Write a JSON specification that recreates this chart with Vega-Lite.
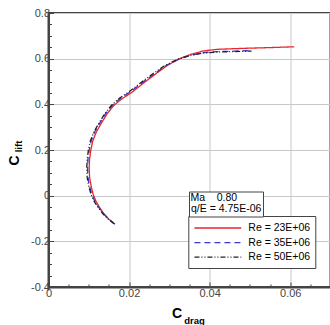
{
  "$schema": "https://vega.github.io/schema/vega-lite/v6.json",
  "autosize": "none",
  "width": 282,
  "height": 274,
  "padding": {"left": 48.5, "top": 13, "right": 0, "bottom": 38},
  "config": {
    "font": "Liberation Sans",
    "view": {"stroke": "#444", "strokeWidth": 2}
  },
  "datasets": {
    "polar": [
      {"s":"Re = 23E+06","i":0,"cd":0.0161,"cl":-0.120},
      {"s":"Re = 23E+06","i":1,"cd":0.0148,"cl":-0.100},
      {"s":"Re = 23E+06","i":2,"cd":0.0137,"cl":-0.078},
      {"s":"Re = 23E+06","i":3,"cd":0.0127,"cl":-0.052},
      {"s":"Re = 23E+06","i":4,"cd":0.0118,"cl":-0.025},
      {"s":"Re = 23E+06","i":5,"cd":0.0111,"cl":0.005},
      {"s":"Re = 23E+06","i":6,"cd":0.0106,"cl":0.040},
      {"s":"Re = 23E+06","i":7,"cd":0.0102,"cl":0.080},
      {"s":"Re = 23E+06","i":8,"cd":0.0101,"cl":0.120},
      {"s":"Re = 23E+06","i":9,"cd":0.0102,"cl":0.160},
      {"s":"Re = 23E+06","i":10,"cd":0.0105,"cl":0.200},
      {"s":"Re = 23E+06","i":11,"cd":0.0110,"cl":0.240},
      {"s":"Re = 23E+06","i":12,"cd":0.0119,"cl":0.280},
      {"s":"Re = 23E+06","i":13,"cd":0.0132,"cl":0.320},
      {"s":"Re = 23E+06","i":14,"cd":0.0146,"cl":0.360},
      {"s":"Re = 23E+06","i":15,"cd":0.0162,"cl":0.395},
      {"s":"Re = 23E+06","i":16,"cd":0.0182,"cl":0.424},
      {"s":"Re = 23E+06","i":17,"cd":0.0205,"cl":0.450},
      {"s":"Re = 23E+06","i":18,"cd":0.0235,"cl":0.492},
      {"s":"Re = 23E+06","i":19,"cd":0.0265,"cl":0.532},
      {"s":"Re = 23E+06","i":20,"cd":0.0295,"cl":0.570},
      {"s":"Re = 23E+06","i":21,"cd":0.0325,"cl":0.600},
      {"s":"Re = 23E+06","i":22,"cd":0.0355,"cl":0.620},
      {"s":"Re = 23E+06","i":23,"cd":0.0385,"cl":0.634},
      {"s":"Re = 23E+06","i":24,"cd":0.0420,"cl":0.641},
      {"s":"Re = 23E+06","i":25,"cd":0.0480,"cl":0.645},
      {"s":"Re = 23E+06","i":26,"cd":0.0540,"cl":0.648},
      {"s":"Re = 23E+06","i":27,"cd":0.0610,"cl":0.652},
      {"s":"Re = 35E+06","i":0,"cd":0.0165,"cl":-0.125},
      {"s":"Re = 35E+06","i":1,"cd":0.0150,"cl":-0.103},
      {"s":"Re = 35E+06","i":2,"cd":0.0137,"cl":-0.080},
      {"s":"Re = 35E+06","i":3,"cd":0.0126,"cl":-0.055},
      {"s":"Re = 35E+06","i":4,"cd":0.0116,"cl":-0.028},
      {"s":"Re = 35E+06","i":5,"cd":0.0108,"cl":0.003},
      {"s":"Re = 35E+06","i":6,"cd":0.0102,"cl":0.040},
      {"s":"Re = 35E+06","i":7,"cd":0.0098,"cl":0.080},
      {"s":"Re = 35E+06","i":8,"cd":0.0097,"cl":0.120},
      {"s":"Re = 35E+06","i":9,"cd":0.0098,"cl":0.160},
      {"s":"Re = 35E+06","i":10,"cd":0.0101,"cl":0.200},
      {"s":"Re = 35E+06","i":11,"cd":0.0106,"cl":0.240},
      {"s":"Re = 35E+06","i":12,"cd":0.0115,"cl":0.280},
      {"s":"Re = 35E+06","i":13,"cd":0.0128,"cl":0.320},
      {"s":"Re = 35E+06","i":14,"cd":0.0142,"cl":0.360},
      {"s":"Re = 35E+06","i":15,"cd":0.0158,"cl":0.395},
      {"s":"Re = 35E+06","i":16,"cd":0.0178,"cl":0.426},
      {"s":"Re = 35E+06","i":17,"cd":0.0202,"cl":0.453},
      {"s":"Re = 35E+06","i":18,"cd":0.0232,"cl":0.494},
      {"s":"Re = 35E+06","i":19,"cd":0.0262,"cl":0.533},
      {"s":"Re = 35E+06","i":20,"cd":0.0292,"cl":0.570},
      {"s":"Re = 35E+06","i":21,"cd":0.0322,"cl":0.597},
      {"s":"Re = 35E+06","i":22,"cd":0.0352,"cl":0.614},
      {"s":"Re = 35E+06","i":23,"cd":0.0382,"cl":0.626},
      {"s":"Re = 35E+06","i":24,"cd":0.0420,"cl":0.631},
      {"s":"Re = 35E+06","i":25,"cd":0.0460,"cl":0.633},
      {"s":"Re = 35E+06","i":26,"cd":0.0504,"cl":0.635},
      {"s":"Re = 50E+06","i":0,"cd":0.0163,"cl":-0.123},
      {"s":"Re = 50E+06","i":1,"cd":0.0148,"cl":-0.102},
      {"s":"Re = 50E+06","i":2,"cd":0.0135,"cl":-0.079},
      {"s":"Re = 50E+06","i":3,"cd":0.0124,"cl":-0.054},
      {"s":"Re = 50E+06","i":4,"cd":0.0114,"cl":-0.027},
      {"s":"Re = 50E+06","i":5,"cd":0.0106,"cl":0.003},
      {"s":"Re = 50E+06","i":6,"cd":0.0100,"cl":0.040},
      {"s":"Re = 50E+06","i":7,"cd":0.0096,"cl":0.080},
      {"s":"Re = 50E+06","i":8,"cd":0.0095,"cl":0.120},
      {"s":"Re = 50E+06","i":9,"cd":0.0096,"cl":0.160},
      {"s":"Re = 50E+06","i":10,"cd":0.0099,"cl":0.200},
      {"s":"Re = 50E+06","i":11,"cd":0.0104,"cl":0.240},
      {"s":"Re = 50E+06","i":12,"cd":0.0113,"cl":0.280},
      {"s":"Re = 50E+06","i":13,"cd":0.0126,"cl":0.320},
      {"s":"Re = 50E+06","i":14,"cd":0.0140,"cl":0.360},
      {"s":"Re = 50E+06","i":15,"cd":0.0156,"cl":0.395},
      {"s":"Re = 50E+06","i":16,"cd":0.0176,"cl":0.427},
      {"s":"Re = 50E+06","i":17,"cd":0.0200,"cl":0.455},
      {"s":"Re = 50E+06","i":18,"cd":0.0230,"cl":0.496},
      {"s":"Re = 50E+06","i":19,"cd":0.0260,"cl":0.535},
      {"s":"Re = 50E+06","i":20,"cd":0.0290,"cl":0.571},
      {"s":"Re = 50E+06","i":21,"cd":0.0320,"cl":0.597},
      {"s":"Re = 50E+06","i":22,"cd":0.0350,"cl":0.613},
      {"s":"Re = 50E+06","i":23,"cd":0.0380,"cl":0.624},
      {"s":"Re = 50E+06","i":24,"cd":0.0420,"cl":0.629},
      {"s":"Re = 50E+06","i":25,"cd":0.0460,"cl":0.631},
      {"s":"Re = 50E+06","i":26,"cd":0.0504,"cl":0.633}
    ]
  },
  "data": {"name": "polar"},
  "layer": [
    {
      "mark": {"type": "line", "strokeWidth": 1.3},
      "encoding": {
        "x": {
          "field": "cd", "type": "quantitative",
          "scale": {"domain": [0, 0.07], "nice": false, "zero": false},
          "axis": {
            "orient": "bottom",
            "values": [0, 0.02, 0.04, 0.06],
            "labelExpr": "'' + datum.value",
            "grid": true, "gridColor": "#c8c8c8", "gridWidth": 1,
            "tickSize": -5, "tickColor": "#444", "tickWidth": 1,
            "domainColor": "#444", "domainWidth": 2,
            "labelFontSize": 11, "labelColor": "#444", "labelPadding": 5,
            "labelOverlap": false, "labelFlush": false,
            "title": "C", "titleFontSize": 14, "titleFontWeight": "bold", "titleColor": "#000",
            "titleX": 128, "titleY": 26, "titleBaseline": "middle", "titleAlign": "center"
          }
        },
        "y": {
          "field": "cl", "type": "quantitative",
          "scale": {"domain": [-0.4, 0.8], "nice": false, "zero": false},
          "axis": {
            "orient": "left",
            "values": [-0.4, -0.2, 0, 0.2, 0.4, 0.6, 0.8],
            "labelExpr": "'' + datum.value",
            "grid": true, "gridColor": "#c8c8c8", "gridWidth": 1,
            "tickSize": -5, "tickColor": "#444", "tickWidth": 1,
            "domainColor": "#444", "domainWidth": 2,
            "labelFontSize": 11, "labelColor": "#444", "labelPadding": 4,
            "labelOverlap": false, "labelFlush": false,
            "title": "C", "titleFontSize": 14, "titleFontWeight": "bold", "titleColor": "#000",
            "titleX": -34.5, "titleY": 147, "titleAngle": -90, "titleBaseline": "middle", "titleAlign": "center"
          }
        },
        "color": {
          "field": "s", "type": "nominal",
          "scale": {"domain": ["Re = 23E+06", "Re = 35E+06", "Re = 50E+06"], "range": ["#e8262c", "#3a3ad0", "#222222"]},
          "legend": {
            "title": null,
            "orient": "none", "legendX": 139.8, "legendY": 203,
            "symbolType": "M-1,0H7", "symbolSize": 137, "symbolStrokeWidth": 1.3,
            "labelFontSize": 10.5, "labelColor": "#000", "labelOffset": 41,
            "rowPadding": 1.6, "padding": 5,
            "strokeColor": "#444", "fillColor": "#ffffff"
          }
        },
        "strokeDash": {
          "field": "s", "type": "nominal",
          "scale": {"domain": ["Re = 23E+06", "Re = 35E+06", "Re = 50E+06"], "range": [[1, 0], [6, 4], [5, 2, 1, 2, 1, 2]]},
          "legend": null
        },
        "order": {"field": "i", "type": "quantitative"}
      }
    },
    {
      "mark": {"type": "point", "opacity": 0},
      "encoding": {
        "x": {
          "field": "cd", "type": "quantitative",
          "axis": {
            "orient": "bottom",
            "values": [0.005, 0.01, 0.015, 0.025, 0.03, 0.035, 0.045, 0.05, 0.055, 0.065],
            "labels": false, "grid": false, "domain": false,
            "tickSize": -3, "tickColor": "#444", "tickWidth": 1,
            "title": "drag", "titleFontSize": 9.5, "titleFontWeight": "bold", "titleColor": "#000",
            "titleX": 145.5, "titleY": 33, "titleBaseline": "middle", "titleAlign": "center"
          }
        },
        "y": {
          "field": "cl", "type": "quantitative",
          "axis": {
            "orient": "left",
            "values": [-0.35, -0.3, -0.25, -0.15, -0.1, -0.05, 0.05, 0.1, 0.15, 0.25, 0.3, 0.35, 0.45, 0.5, 0.55, 0.65, 0.7, 0.75],
            "labels": false, "grid": false, "domain": false,
            "tickSize": -3, "tickColor": "#444", "tickWidth": 1,
            "title": "lift", "titleFontSize": 9.5, "titleFontWeight": "bold", "titleColor": "#000",
            "titleX": -30.5, "titleY": 133, "titleAngle": -90, "titleBaseline": "middle", "titleAlign": "center"
          }
        },
        "shape": {
          "datum": "q/E = 4.75E-06", "type": "nominal",
          "legend": {
            "title": "Ma\u00a0\u00a0\u00a0\u00a00.80",
            "titleFontSize": 10.5, "titleFontWeight": "normal", "titleColor": "#000", "titlePadding": 0,
            "orient": "none", "legendX": 140.5, "legendY": 178.5,
            "symbolSize": 0, "symbolOpacity": 0, "symbolStrokeWidth": 0,
            "labelFontSize": 10.5, "labelColor": "#000", "labelOffset": -10,
            "padding": 1.5,
            "strokeColor": "#444", "fillColor": "#ffffff"
          }
        }
      }
    }
  ],
  "resolve": {"axis": {"x": "independent", "y": "independent"}}
}
